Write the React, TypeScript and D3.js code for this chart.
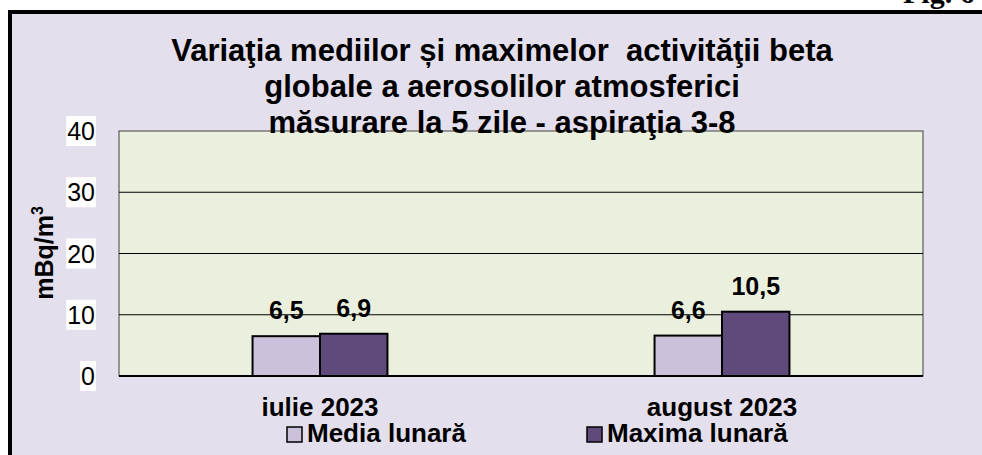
import React from "react";
import * as d3 from "d3";

// chart values
const categories = ["iulie 2023", "august 2023"];
const seriesNames = ["Media lunară", "Maxima lunară"];
const media = [6.5, 6.6];
const maxima = [6.9, 10.5];
const yTicks = [0, 10, 20, 30, 40];
const titleLines = [
  "Variaţia mediilor și maximelor  activităţii beta",
  "globale a aerosolilor atmosferici",
  "măsurare la 5 zile - aspiraţia 3-8",
];

const W = 982;
const H = 455;
const plot = { left: 119, right: 923, top: 131, bottom: 376 };
const colors = ["#CCC1DA", "#604A7B"];
const font = "'Liberation Sans', Arial, sans-serif";

const App = () => {
  const x0 = d3
    .scaleBand<string>()
    .domain(categories)
    .range([plot.left, plot.right])
    .padding(0);

  const x1 = d3
    .scaleBand<string>()
    .domain(seriesNames)
    .range([0, x0.bandwidth()])
    .paddingInner(0)
    .paddingOuter(1.98);

  const y = d3.scaleLinear().domain([0, 40]).range([plot.bottom, plot.top]);

  const values = [media, maxima];
  const bars = categories.flatMap((c, i) =>
    seriesNames.map((s, j) => ({ cat: c, series: s, j, value: values[j][i] }))
  );

  return (
    <svg
      width={W}
      height={H}
      style={{ position: "absolute", left: 0, top: 0, background: "#fff" }}
      fontFamily={font}
    >
      {/* figure number, mostly cut off at the top */}
      <text
        x={903}
        y={3}
        fontFamily="'Liberation Serif', 'Times New Roman', serif"
        fontWeight="bold"
        fontSize={30}
      >
        Fig. 6
      </text>

      {/* outer frame */}
      <rect x={10} y={12} width={1000} height={500} fill="#E4DFEC" stroke="#000" strokeWidth={4} />

      {/* plot area */}
      <rect
        x={plot.left}
        y={plot.top}
        width={plot.right - plot.left}
        height={plot.bottom - plot.top}
        fill="#EBF0DE"
        stroke="#404040"
        strokeWidth={1}
      />
      {yTicks
        .filter((t) => t > 0 && t < 40)
        .map((t) => (
          <line key={t} x1={plot.left} x2={plot.right} y1={y(t)} y2={y(t)} stroke="#000" strokeWidth={1} />
        ))}

      {/* bars */}
      {bars.map((b) => (
        <rect
          key={b.cat + b.series}
          x={(x0(b.cat) ?? 0) + (x1(b.series) ?? 0)}
          y={y(b.value)}
          width={x1.bandwidth()}
          height={y(0) - y(b.value)}
          fill={colors[b.j]}
          stroke="#000"
          strokeWidth={2}
        />
      ))}
      <line x1={plot.left} x2={plot.right} y1={y(0)} y2={y(0)} stroke="#000" strokeWidth={2} />

      {/* value labels */}
      {bars.map((b) => (
        <text
          key={"l" + b.cat + b.series}
          x={(x0(b.cat) ?? 0) + (x1(b.series) ?? 0) + x1.bandwidth() / 2}
          y={y(b.value) - 17}
          textAnchor="middle"
          fontWeight="bold"
          fontSize={25}
        >
          {String(b.value).replace(".", ",")}
        </text>
      ))}

      {/* y tick labels with white boxes */}
      {yTicks.map((t) => {
        const label = String(t);
        const w = label.length * 0.556 * 25 + 2;
        return (
          <g key={"t" + t}>
            <rect x={96 - w} y={y(t) - 15} width={w} height={30} fill="#fff" />
            <text x={95} y={y(t)} textAnchor="end" dominantBaseline="central" fontSize={25}>
              {label}
            </text>
          </g>
        );
      })}

      {/* y axis title */}
      <text
        transform="translate(53,253) rotate(-90)"
        textAnchor="middle"
        fontWeight="bold"
        fontSize={25}
      >
        mBq/m<tspan dy={-10} fontSize={16}>3</tspan>
      </text>

      {/* category labels */}
      {categories.map((c) => (
        <text
          key={c}
          x={(x0(c) ?? 0) + x0.bandwidth() / 2}
          y={416}
          textAnchor="middle"
          fontWeight="bold"
          fontSize={26}
        >
          {c}
        </text>
      ))}

      {/* title */}
      {titleLines.map((line, i) => (
        <text
          key={i}
          x={502}
          y={61 + i * 36}
          textAnchor="middle"
          fontWeight="bold"
          fontSize={31}
          style={{ whiteSpace: "pre" }}
        >
          {line}
        </text>
      ))}

      {/* legend */}
      {seriesNames.map((s, j) => {
        const lx = [287, 587][j];
        return (
          <g key={s}>
            <rect x={lx} y={427} width={15} height={15} fill={colors[j]} stroke="#000" strokeWidth={1.5} />
            <text x={lx + 20} y={442} fontWeight="bold" fontSize={26}>
              {s}
            </text>
          </g>
        );
      })}
    </svg>
  );
};

export default App;
